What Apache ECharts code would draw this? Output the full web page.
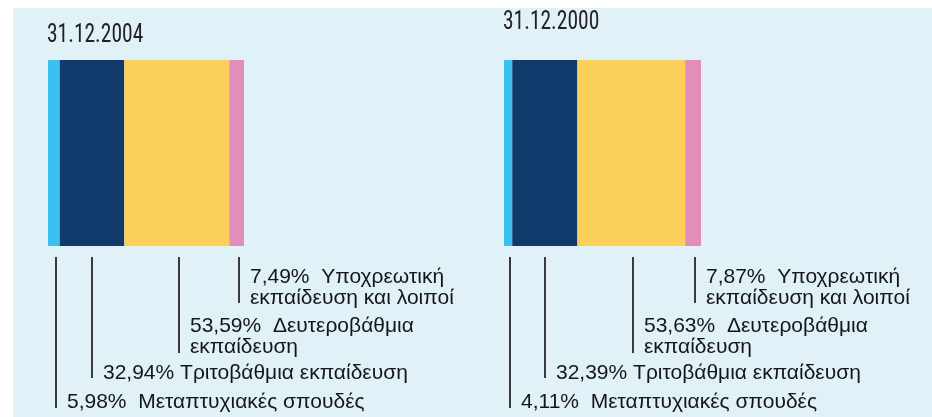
<!DOCTYPE html>
<html><head><meta charset="utf-8">
<script src="https://cdn.jsdelivr.net/npm/echarts@6/dist/echarts.min.js"></script>
<style>html,body{margin:0;padding:0;background:#fff}#c{width:932px;height:417px}</style>
</head><body><div id="c"></div>
<script>
// ---- data ----
const dates = ['31.12.2004', '31.12.2000'];
const segmentNames = ['Μεταπτυχιακές σπουδές', 'Τριτοβάθμια εκπαίδευση', 'Δευτεροβάθμια\nεκπαίδευση', 'Υποχρεωτική\nεκπαίδευση και λοιποί'];
const labelGaps = ['  ', ' ', '  ', '  '];
const values2004 = [5.98, 32.94, 53.59, 7.49];
const values2000 = [4.11, 32.39, 53.63, 7.87];
const segmentColors = ['#3BC1EE', '#0F3A6B', '#FACF5A', '#E38EBA'];

// ---- layout ----
const panels = [
  { values: values2004, left: 48, width: 196, titleX: 47, titleY: 36 },
  { values: values2000, left: 504, width: 197, titleX: 503, titleY: 23 }
];
const lineEnd = [162, 132, 107, 57];
const textTop = [146, 117, 70, 21];
const textFont = '"Liberation Sans", Arial, Helvetica, sans-serif';

const fmt = v => v.toFixed(2).replace('.', ',') + '%';

const grid = [], xAxis = [], yAxis = [], series = [];
const graphic = [{
  type: 'rect', z: -10, silent: true,
  shape: { x: 13, y: 8, width: 919, height: 409 },
  style: { fill: '#E0F1F8' }
}];

panels.forEach((p, g) => {
  const total = p.values.reduce((a, b) => a + b, 0);
  grid.push({ left: p.left, width: p.width, top: 60, height: 186 });
  xAxis.push({ type: 'value', gridIndex: g, min: 0, max: total, show: false });
  yAxis.push({ type: 'category', gridIndex: g, data: [dates[g]], show: false });
  p.values.forEach((v, i) => {
    series.push({
      type: 'bar', xAxisIndex: g, yAxisIndex: g, stack: 'p' + g,
      barWidth: '100%', data: [v], silent: true,
      itemStyle: { color: segmentColors[i] }
    });
  });
  let acc = 0;
  const rows = p.values.map((v, i) => { const r = [acc, v, i, 0]; acc += v; return r; });
  series.push({
    type: 'custom', xAxisIndex: g, yAxisIndex: g, clip: false, silent: true,
    data: rows, encode: { x: 0, y: 3 },
    renderItem: function (params, api) {
      const s = api.value(0), v = api.value(1), i = api.value(2);
      const c = api.coord([s + v / 2, 0]);
      const h = api.size([0, 1])[1];
      const bottom = c[1] + h / 2;
      const x = Math.round(c[0]) + (i === 1 ? 0 : 2);
      return {
        type: 'group', children: [
          { type: 'line', shape: { x1: x, y1: bottom + 11, x2: x, y2: bottom + lineEnd[i] },
            style: { stroke: '#3a3a3a', lineWidth: 2 } },
          { type: 'text', x: x + 11, y: bottom + textTop[i],
            style: { text: fmt(v) + labelGaps[i] + segmentNames[i], fill: '#161616',
              fontSize: 21, fontFamily: textFont, lineHeight: 21,
              align: 'left', verticalAlign: 'top' } }
        ]
      };
    }
  });
  graphic.push({
    type: 'text', x: p.titleX, y: p.titleY, scaleX: 0.86,
    style: { text: dates[g], fill: '#222', fontSize: 25,
      fontFamily: '"Liberation Sans Narrow", "Roboto Condensed", "DejaVu Sans Condensed", sans-serif',
      align: 'left', verticalAlign: 'middle' }
  });
});

const chart = echarts.init(document.getElementById('c'), null, { renderer: 'canvas' });
chart.setOption({ animation: false, backgroundColor: '#fff', grid, xAxis, yAxis, series, graphic });
</script></body></html>
